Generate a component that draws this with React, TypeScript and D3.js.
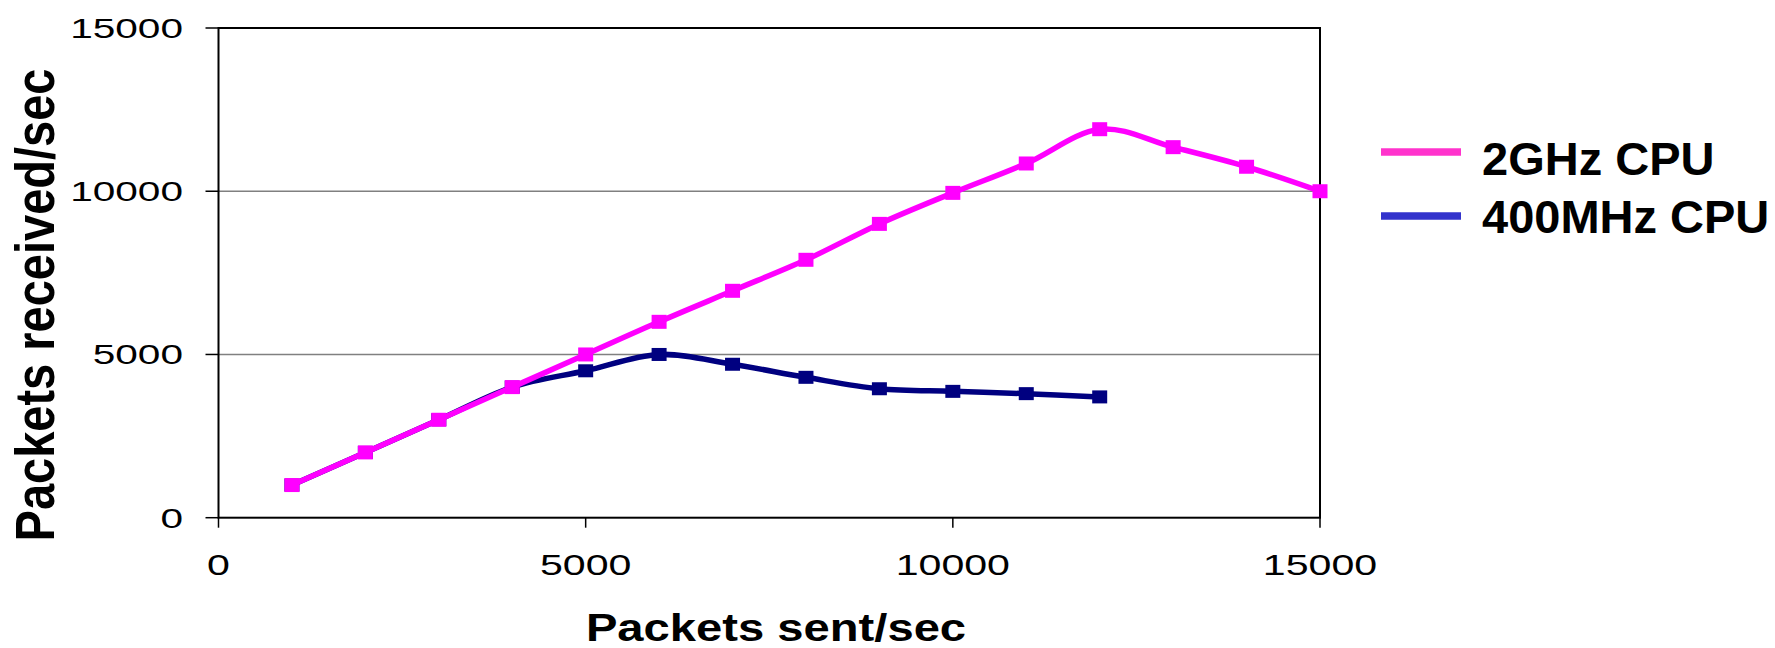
import React from "react";
import * as d3 from "d3";

const xValues = [1000, 2000, 3000, 4000, 5000, 6000, 7000, 8000, 9000, 10000, 11000, 12000, 13000, 14000, 15000];
const ghzValues = [1000, 2000, 3000, 4000, 5000, 6000, 6950, 7900, 9000, 9950, 10850, 11900, 11350, 10750, 10000];
const mhzX = [1000, 2000, 3000, 4000, 5000, 6000, 7000, 8000, 9000, 10000, 11000, 12000];
const mhzValues = [1000, 2000, 3000, 4000, 4500, 5000, 4700, 4300, 3950, 3870, 3800, 3700];
const xTicks = [0, 5000, 10000, 15000];
const yTicks = [0, 5000, 10000, 15000];
const seriesNames = ["2GHz CPU", "400MHz CPU"];
const lineColors = ["#FF00FF", "#000080"];
const legendColors = ["#FF33CC", "#3333CC"];

const W = 1775;
const H = 648;
const left = 218.5, right = 1320, top = 28, bottom = 517.7;

export default function App() {
  const x = d3.scaleLinear().domain([0, 15000]).range([left, right]);
  const y = d3.scaleLinear().domain([0, 15000]).range([bottom, top]);
  const line = d3
    .line<[number, number]>()
    .x((d) => x(d[0]))
    .y((d) => y(d[1]))
    .curve(d3.curveCardinal.tension(0));

  const ghz: [number, number][] = xValues.map((v, i) => [v, ghzValues[i]]);
  const mhz: [number, number][] = mhzX.map((v, i) => [v, mhzValues[i]]);
  const font = "'Liberation Sans', Arial, sans-serif";

  return (
    <svg width={W} height={H} style={{ position: "absolute", left: 0, top: 0, background: "#fff" }} fontFamily={font}>
      <rect x={0} y={0} width={W} height={H} fill="#fff" />
      {yTicks.filter((t) => t > 0 && t < 15000).map((t) => (
        <line key={"g" + t} x1={left} x2={right} y1={y(t)} y2={y(t)} stroke="#808080" strokeWidth={1.5} />
      ))}
      <rect x={left} y={top} width={right - left} height={bottom - top} fill="none" stroke="#000" strokeWidth={2} />
      {yTicks.map((t) => (
        <g key={"yt" + t}>
          <line x1={left - 13} x2={left} y1={y(t)} y2={y(t)} stroke="#000" strokeWidth={1.5} />
          <g transform={`translate(183,${y(t) + 10}) scale(1.45,1)`}>
            <text x={0} y={0} textAnchor="end" fontSize={28} fill="#000">{t}</text>
          </g>
        </g>
      ))}
      {xTicks.map((t) => (
        <g key={"xt" + t}>
          <line x1={x(t)} x2={x(t)} y1={bottom} y2={bottom + 10} stroke="#000" strokeWidth={1.5} />
          <g transform={`translate(${x(t)},575) scale(1.37,1)`}>
            <text x={0} y={0} textAnchor="middle" fontSize={30} fill="#000">{t}</text>
          </g>
        </g>
      ))}
      <path d={line(mhz) || ""} fill="none" stroke={lineColors[1]} strokeWidth={5.5} strokeLinejoin="round" />
      {mhz.map((d, i) => (
        <rect key={"m" + i} x={x(d[0]) - 7.5} y={y(d[1]) - 6.5} width={15} height={13} fill={lineColors[1]} />
      ))}
      <path d={line(ghz) || ""} fill="none" stroke={lineColors[0]} strokeWidth={5.5} strokeLinejoin="round" />
      {ghz.map((d, i) => (
        <rect key={"p" + i} x={x(d[0]) - 7.5} y={y(d[1]) - 7} width={15} height={14} fill={lineColors[0]} />
      ))}
      <g transform="translate(776,641) scale(1.21,1)">
        <text x={0} y={0} textAnchor="middle" fontSize={39} fontWeight="bold" fill="#000">Packets sent/sec</text>
      </g>
      <g transform="translate(54,305) scale(1.2,1) rotate(-90)">
        <text x={0} y={0} textAnchor="middle" fontSize={47} fontWeight="bold" fill="#000">Packets received/sec</text>
      </g>
      {seriesNames.map((name, i) => (
        <g key={"l" + i}>
          <line x1={1381} x2={1461} y1={152 + i * 64} y2={152 + i * 64} stroke={legendColors[i]} strokeWidth={7.5} />
          <text x={1482} y={175 + i * 58} fontSize={47} fontWeight="bold" fill="#000">{name}</text>
        </g>
      ))}
    </svg>
  );
}
